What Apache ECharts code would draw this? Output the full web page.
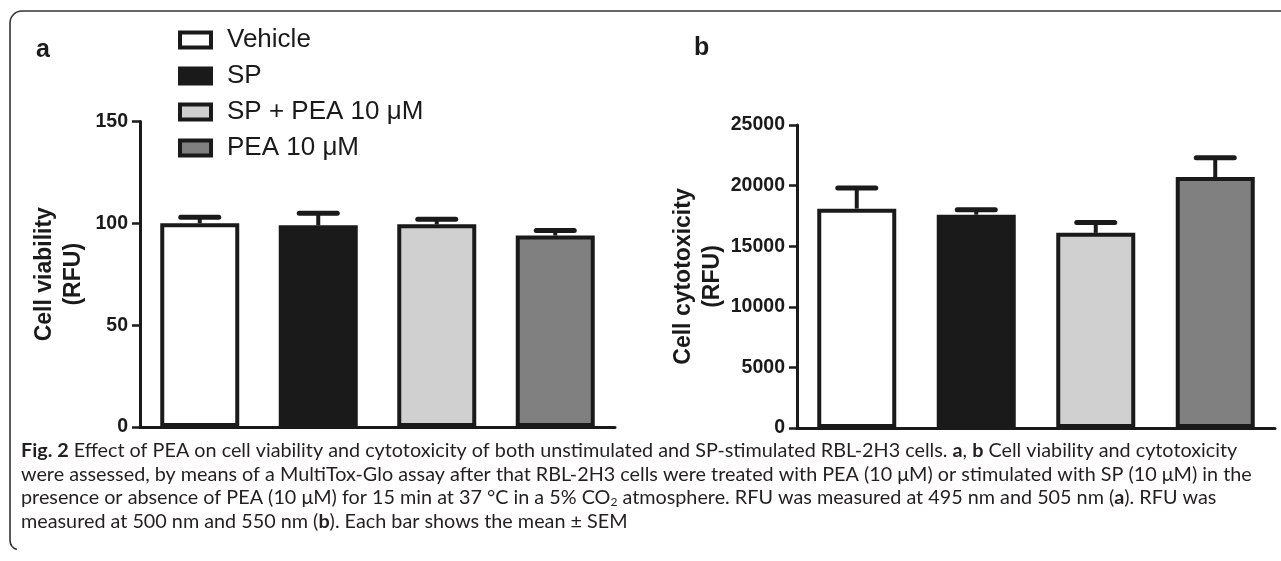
<!DOCTYPE html>
<html>
<head>
<meta charset="utf-8">
<script src="https://cdn.jsdelivr.net/npm/echarts@6/dist/echarts.min.js"></script>
<style>
html,body{margin:0;padding:0;background:#fff;}
#chart{width:1281px;height:561px;}
</style>
</head>
<body>
<div id="chart"></div>
<script>
// ---- data ----
const categories = ['Vehicle', 'SP', 'SP + PEA 10 μM', 'PEA 10 μM'];
const viability = [100, 99, 99.5, 94];
const viabilitySem = [3, 6, 2.5, 2.5];
const cytotoxicity = [18100, 17600, 16100, 20700];
const cytotoxicitySem = [1700, 400, 850, 1600];
const viabilityAxis = { min: 0, max: 150, interval: 50, name: 'Cell viability\n(RFU)' };
const cytoAxis = { min: 0, max: 25000, interval: 5000, name: 'Cell cytotoxicity\n(RFU)' };
const captionLines = [
  '{b|Fig. 2} Effect of PEA on cell viability and cytotoxicity of both unstimulated and SP-stimulated RBL-2H3 cells. {b|a}, {b|b} Cell viability and cytotoxicity',
  'were assessed, by means of a MultiTox-Glo assay after that RBL-2H3 cells were treated with PEA (10 μM) or stimulated with SP (10 μM) in the',
  'presence or absence of PEA (10 μM) for 15 min at 37 °C in a 5% CO{sub|2} atmosphere. RFU was measured at 495 nm and 505 nm ({b|a}). RFU was',
  'measured at 500 nm and 550 nm ({b|b}). Each bar shows the mean ± SEM'
];

// ---- style ----
const fills = ['#ffffff', '#1a1a1a', '#d0d0d0', '#808080'];
const ink = '#1a1a1a';
const FONT = "'Liberation Sans', Arial, sans-serif";
const CAPFONT = "Lato, 'Liberation Sans', sans-serif";
const CAPSIZE = 19.8;
const BAR_W = 79, BAR_GAP = 0.5;

const chart = echarts.init(document.getElementById('chart'), null, { renderer: 'canvas' });

function errorRender(grouped) {
  return function (params, api) {
    const cat = api.value(0), v = api.value(1), e = api.value(2), idx = api.value(3);
    const base = api.coord([cat, v]);
    const top = api.coord([cat, v + e]);
    let cx = base[0];
    if (grouped) cx += (idx - 1.5) * BAR_W * (1 + BAR_GAP);
    const half = 19;
    return {
      type: 'group',
      children: [
        { type: 'line', shape: { x1: cx, y1: base[1], x2: cx, y2: top[1] }, style: { stroke: ink, lineWidth: 4 } },
        { type: 'line', shape: { x1: cx - half, y1: top[1], x2: cx + half, y2: top[1] }, style: { stroke: ink, lineWidth: 5, lineCap: 'round' } }
      ]
    };
  };
}

function yAxisOpt(gridIndex, ax, nameGap) {
  return {
    type: 'value', gridIndex, min: ax.min, max: ax.max, interval: ax.interval,
    name: ax.name, nameLocation: 'middle', nameRotate: 90, nameGap, nameMoveOverlap: false,
    nameTextStyle: { fontFamily: FONT, fontWeight: 'bold', fontSize: 23, color: ink, lineHeight: 29, align: 'center' },
    axisLine: { show: true, lineStyle: { color: ink, width: 3 } },
    axisTick: { show: true, length: 8, lineStyle: { color: ink, width: 2.5 } },
    axisLabel: { fontFamily: FONT, fontWeight: 'bold', fontSize: 19.5, color: ink, margin: 12,
                 formatter: v => String(v) },
    splitLine: { show: false }
  };
}

const series = [];
categories.forEach((c, i) => {
  series.push({
    type: 'bar', name: c, xAxisIndex: 0, yAxisIndex: 0,
    data: [viability[i]],
    barWidth: BAR_W, barGap: (BAR_GAP * 100) + '%',
    itemStyle: { color: fills[i], borderColor: ink, borderWidth: 4 },
    z: 2
  });
});
series.push({
  type: 'custom', name: 'err-a', xAxisIndex: 0, yAxisIndex: 0,
  renderItem: errorRender(true),
  data: categories.map((c, i) => [0, viability[i], viabilitySem[i], i]),
  z: 3, silent: true
});
series.push({
  type: 'bar', name: 'cytotox', xAxisIndex: 1, yAxisIndex: 1,
  data: cytotoxicity.map((v, i) => ({ value: v, itemStyle: { color: fills[i] } })),
  barWidth: BAR_W,
  itemStyle: { borderColor: ink, borderWidth: 4 },
  z: 2
});
series.push({
  type: 'custom', name: 'err-b', xAxisIndex: 1, yAxisIndex: 1,
  renderItem: errorRender(false),
  data: categories.map((c, i) => [i, cytotoxicity[i], cytotoxicitySem[i], i]),
  z: 3, silent: true
});

const captionGraphics = captionLines.map((t, i) => ({
  type: 'text', left: 21, top: 440.5 + i * 23.8,
  style: {
    text: t, fill: '#231f20',
    font: CAPSIZE + 'px ' + CAPFONT,
    rich: {
      b: { fontFamily: CAPFONT, fontSize: CAPSIZE, fontWeight: 'bold', fill: '#231f20' },
      sub: { fontFamily: CAPFONT, fontSize: 12, fill: '#231f20', verticalAlign: 'bottom', padding: [7, 0, 0, 0] }
    }
  }
}));

const borderStyle = { stroke: '#333', lineWidth: 1.6, fill: null };

chart.setOption({
  animation: false,
  backgroundColor: '#fff',
  legend: {
    data: categories,
    orient: 'vertical', left: 178, top: 27, padding: 0,
    icon: 'rect', itemWidth: 31, itemHeight: 15, itemGap: 10,
    itemStyle: { borderColor: ink, borderWidth: 4 },
    textStyle: { fontFamily: FONT, fontSize: 26, color: ink, padding: [0, 0, 0, 11] },
    selectedMode: false
  },
  grid: [
    { left: 140, top: 121.5, width: 475, height: 305.5, containLabel: false },
    { left: 797, top: 125, width: 478, height: 303, containLabel: false }
  ],
  xAxis: [
    {
      type: 'category', gridIndex: 0, data: [''],
      axisLine: { lineStyle: { color: ink, width: 3 } },
      axisTick: { alignWithLabel: true, length: 8, lineStyle: { color: ink, width: 2.5 } },
      axisLabel: { show: false }
    },
    {
      type: 'category', gridIndex: 1, data: categories,
      axisLine: { lineStyle: { color: ink, width: 3 } },
      axisTick: { alignWithLabel: true, length: 8, lineStyle: { color: ink, width: 2.5 } },
      axisLabel: { show: false }
    }
  ],
  yAxis: [yAxisOpt(0, viabilityAxis, 52), yAxisOpt(1, cytoAxis, 70)],
  series,
  graphic: [
    { type: 'line', shape: { x1: 22, y1: 11, x2: 1290, y2: 11 }, style: borderStyle },
    { type: 'line', shape: { x1: 10, y1: 23, x2: 10, y2: 540 }, style: borderStyle },
    { type: 'arc', shape: { cx: 22, cy: 23, r: 12, startAngle: Math.PI, endAngle: Math.PI * 1.5, clockwise: true }, style: borderStyle },
    { type: 'arc', shape: { cx: 20, cy: 540, r: 10, startAngle: Math.PI * 0.6, endAngle: Math.PI, clockwise: true }, style: borderStyle },
    { type: 'text', left: 36, top: 38, style: { text: 'a', font: 'bold 25px ' + FONT, fill: ink } },
    { type: 'text', left: 694, top: 36, style: { text: 'b', font: 'bold 25px ' + FONT, fill: ink } },
    ...captionGraphics
  ]
});
</script>
</body>
</html>
